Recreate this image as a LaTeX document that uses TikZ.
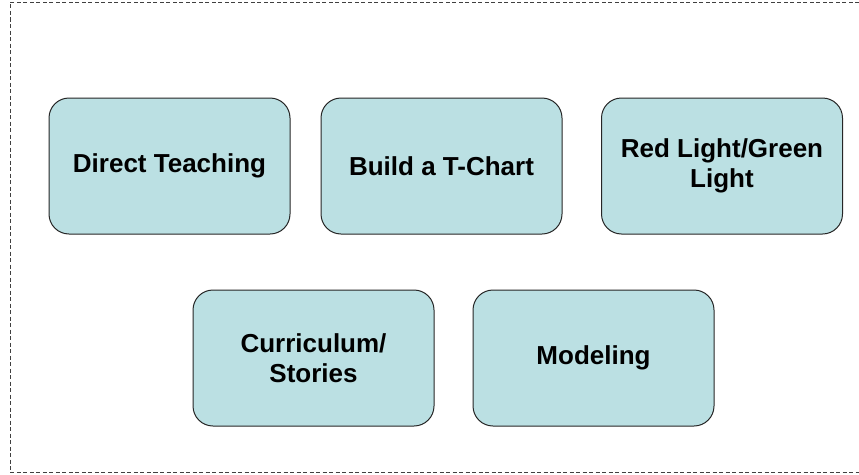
\documentclass[tikz,border=0pt]{standalone}
\usepackage{fontspec}
\setmainfont{Liberation Sans}
\definecolor{boxfill}{HTML}{BBE0E3}
\definecolor{framegray}{HTML}{404040}
\begin{document}
\begin{tikzpicture}[x=1pt,y=-1pt,
  itembox/.style={draw=black!85, line width=1pt, fill=boxfill, rounded corners=20pt,
    minimum width=241pt, minimum height=136pt, align=center,
    font=\fontsize{26}{30}\selectfont\bfseries, inner sep=0pt},
  frameline/.style={draw=framegray, line width=1pt, dash pattern=on 4pt off 2.5pt}]
  \useasboundingbox (0,0) rectangle (859,474);
  % open dashed frame
  \draw[frameline] (859,2) -- (10,2) -- (10,472) -- (859,472);
  % top row
  \node[itembox] (direct) at (169.5,166) {Direct Teaching};
  \node[itembox] (tchart) at (441.5,166) {Build a T-Chart};
  \node[itembox] (light)  at (722,166) {Red Light/Green\\Light};
  % bottom row
  \node[itembox] (stories)  at (313.5,358) {Curriculum/\\Stories};
  \node[itembox] (modeling) at (593.5,358) {Modeling};
\end{tikzpicture}
\end{document}
